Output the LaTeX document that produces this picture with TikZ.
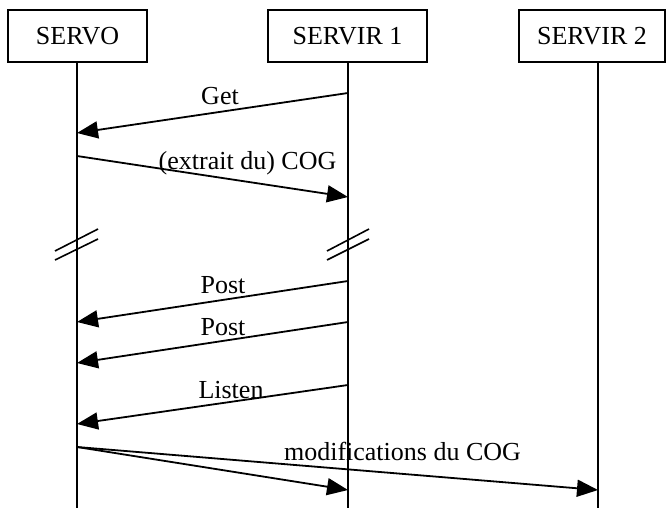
\documentclass[tikz,border=0pt]{standalone}
\usepackage{fontspec}
\setmainfont{Liberation Serif}
\usetikzlibrary{arrows.meta}
\begin{document}
\begin{tikzpicture}[x=1pt,y=-1pt,
  actor/.style={draw,line width=1.4pt,minimum width=139pt,minimum height=52pt,inner sep=0pt,font=\fontsize{26}{29}\selectfont},
  lifeline/.style={line width=1.8pt},
  msg/.style={line width=1.8pt,-{Triangle[length=21pt,width=17pt]}},
  msglabel/.style={anchor=base,inner sep=0pt,font=\fontsize{26}{29}\selectfont},
  breakmark/.style={line width=1.6pt}]
  \useasboundingbox (0,0) rectangle (669,508);

  % participants
  \node[actor] (servo) at (77.5,36) {SERVO};
  \node[actor,minimum width=159pt] (s1) at (347.5,36) {SERVIR 1};
  \node[actor,minimum width=146pt] (s2) at (592,36) {SERVIR 2};

  % lifeline ends
  \coordinate (servoend) at (77,508);
  \coordinate (s1end) at (348,508);
  \coordinate (s2end) at (598,508);
  \draw[lifeline] (servo.south -| servoend) -- (servoend);
  \draw[lifeline] (s1.south -| s1end) -- (s1end);
  \draw[lifeline] (s2.south -| s2end) -- (s2end);

  % message end points on the lifelines
  \coordinate (getA) at (348,93);   \coordinate (getB) at (77,133);
  \coordinate (cogA) at (77,156);   \coordinate (cogB) at (348,197);
  \coordinate (postA) at (348,281); \coordinate (postB) at (77,322);
  \coordinate (postC) at (348,322); \coordinate (postD) at (77,363);
  \coordinate (lisA) at (348,385);  \coordinate (lisB) at (77,424);
  \coordinate (modA) at (77,447);
  \coordinate (modB) at (348,490);  \coordinate (modC) at (598,490);

  % messages
  \draw[msg] (getA) -- (getB);
  \draw[msg] (cogA) -- (cogB);
  \draw[msg] (postA) -- (postB);
  \draw[msg] (postC) -- (postD);
  \draw[msg] (lisA) -- (lisB);
  \draw[msg] (modA) -- (modB);
  \draw[msg] (modA) -- (modC);

  % labels
  \node[msglabel] (lget) at (220,105) {Get};
  \node[msglabel] (lcog) at (247.5,169) {(extrait du) COG};
  \node[msglabel] (lpost1) at (223,293) {Post};
  \node[msglabel] (lpost2) at (223,335) {Post};
  \node[msglabel] (llisten) at (231,398) {Listen};
  \node[msglabel] (lmod) at (402.5,460) {modifications du COG};

  % time breaks
  \draw[breakmark] (55,251) -- (98,229);
  \draw[breakmark] (55,260) -- (98,239);
  \draw[breakmark] (327,251) -- (369,229);
  \draw[breakmark] (327,260) -- (369,239);
\end{tikzpicture}
\end{document}
